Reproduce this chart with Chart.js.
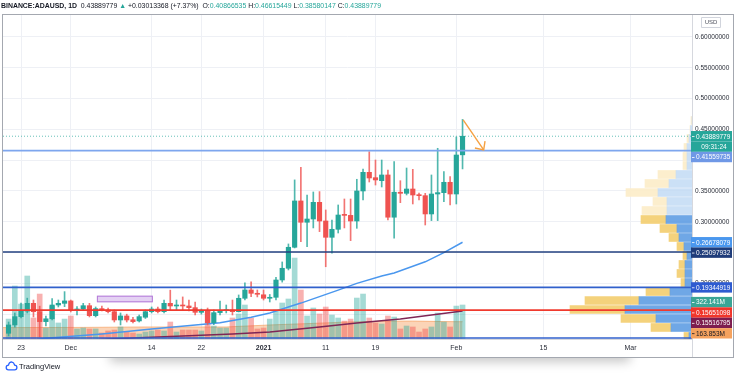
<!DOCTYPE html>
<html>
<head>
<meta charset="utf-8">
<title>ADAUSD 1D</title>
<script src="https://cdn.jsdelivr.net/npm/chart.js@4.4.1/dist/chart.umd.min.js"></script>
<style>
  html, body { margin: 0; padding: 0; background: #ffffff; }
  canvas { display: block; }
</style>
</head>
<body>
<canvas id="chart" width="736" height="374"></canvas>
<script>
// BINANCE:ADAUSD daily bars. day 0 = 23 Nov 2020, first bar is 21 Nov
const firstDay = -2;
const opens = [0.1190, 0.1325, 0.1460, 0.1550, 0.1676, 0.1541, 0.1379, 0.1425, 0.1649, 0.1676,
  0.1715, 0.1568, 0.1584, 0.1638, 0.1476, 0.1590, 0.1568, 0.1541, 0.1406, 0.1471,
  0.1410, 0.1390, 0.1450, 0.1541, 0.1584, 0.1541, 0.1676, 0.1633, 0.1649, 0.1633,
  0.1606, 0.1530, 0.1552, 0.1362, 0.1525, 0.1557, 0.1568, 0.1541, 0.1758, 0.1893,
  0.1839, 0.1815, 0.1758, 0.1774, 0.2055, 0.2245, 0.2586, 0.3338, 0.2992, 0.3045,
  0.3316, 0.3013, 0.2748, 0.2878, 0.3120, 0.3104, 0.3013, 0.3500, 0.3803, 0.3716,
  0.3667, 0.3760, 0.3074, 0.3480, 0.3462, 0.3532, 0.3435, 0.3424, 0.3127, 0.3451,
  0.3473, 0.3641, 0.3451, 0.40866535];
const highs = [0.1373, 0.1520, 0.1680, 0.1760, 0.1730, 0.1630, 0.1470, 0.1755, 0.1730, 0.1866,
  0.1730, 0.1622, 0.1676, 0.1676, 0.1617, 0.1630, 0.1600, 0.1568, 0.1520, 0.1500,
  0.1447, 0.1487, 0.1568, 0.1617, 0.1617, 0.1730, 0.1890, 0.1730, 0.1780, 0.1730,
  0.1698, 0.1584, 0.1600, 0.1568, 0.1714, 0.1649, 0.1730, 0.1812, 0.2010, 0.2027,
  0.1893, 0.1893, 0.1820, 0.2100, 0.2348, 0.2640, 0.3680, 0.3885, 0.3435, 0.3484,
  0.3490, 0.3192, 0.3029, 0.3273, 0.3370, 0.3370, 0.3690, 0.3857, 0.4138, 0.4003,
  0.4003, 0.3841, 0.3976, 0.3667, 0.3873, 0.3852, 0.3467, 0.3462, 0.3760, 0.4193,
  0.3814, 0.3732, 0.4377, 0.46615449];
const lows = [0.1146, 0.1290, 0.1440, 0.1520, 0.1455, 0.1130, 0.1310, 0.1406, 0.1617, 0.1622,
  0.1536, 0.1487, 0.1568, 0.1455, 0.1455, 0.1552, 0.1519, 0.1373, 0.1325, 0.1373,
  0.1357, 0.1373, 0.1430, 0.1520, 0.1520, 0.1520, 0.1568, 0.1570, 0.1568, 0.1552,
  0.1487, 0.1500, 0.1325, 0.1330, 0.1487, 0.1520, 0.1487, 0.1536, 0.1730, 0.1785,
  0.1780, 0.1730, 0.1698, 0.1730, 0.2020, 0.2218, 0.2575, 0.2677, 0.2596, 0.2900,
  0.2840, 0.2270, 0.2490, 0.2818, 0.2900, 0.2694, 0.2894, 0.3354, 0.3646, 0.3597,
  0.3565, 0.3029, 0.2732, 0.3310, 0.3435, 0.3289, 0.3354, 0.2948, 0.3019, 0.3019,
  0.3327, 0.3273, 0.3289, 0.38580147];
const closes = [0.1325, 0.1460, 0.1550, 0.1676, 0.1541, 0.1379, 0.1425, 0.1649, 0.1676, 0.1715,
  0.1568, 0.1584, 0.1638, 0.1476, 0.1590, 0.1568, 0.1541, 0.1406, 0.1471, 0.1406,
  0.1379, 0.1460, 0.1541, 0.1584, 0.1541, 0.1676, 0.1633, 0.1649, 0.1633, 0.1606,
  0.1530, 0.1552, 0.1362, 0.1525, 0.1557, 0.1568, 0.1541, 0.1758, 0.1893, 0.1839,
  0.1823, 0.1758, 0.1774, 0.2055, 0.2245, 0.2586, 0.3338, 0.2992, 0.3045, 0.3316,
  0.3013, 0.2748, 0.2878, 0.3110, 0.3104, 0.3013, 0.3500, 0.3803, 0.3711, 0.3679,
  0.3760, 0.3074, 0.3480, 0.3462, 0.3532, 0.3435, 0.3424, 0.3127, 0.3451, 0.3473,
  0.3641, 0.3451, 0.4084, 0.43889779];
// volume in millions
const volumes = [189, 502, 331, 597, 199, 426, 104, 312, 152, 189,
  218, 95, 104, 95, 95, 57, 76, 85, 114, 66,
  57, 47, 66, 76, 85, 76, 161, 66, 85, 85,
  85, 76, 265, 123, 104, 104, 199, 237, 322, 199,
  95, 104, 189, 275, 341, 379, 767, 464, 218, 294,
  237, 303, 227, 199, 170, 189, 388, 426, 199, 152,
  142, 218, 208, 95, 123, 114, 66, 95, 114, 246,
  161, 114, 312, 322.141];

// moving averages
const maFastDays = [0, 4, 13, 21, 32, 37, 40, 45, 51, 54, 58, 60, 65, 68, 71];
const maFastValues = [0.104, 0.111, 0.118, 0.126, 0.136, 0.145, 0.152, 0.168, 0.189, 0.200, 0.212, 0.217, 0.235, 0.250, 0.26678079];
const maSlowDays = [8, 14, 34, 40, 48, 54, 61, 71];
const maSlowValues = [0.106, 0.1097, 0.1178, 0.1211, 0.1292, 0.1357, 0.1422, 0.15516795];
const volMaDays = [-3, 10, 20, 33, 40, 47, 53, 58, 63, 68, 71];
const volMaValues = [108, 110, 114, 114, 133, 148, 162, 168, 170, 165, 163.853];

// horizontal levels
const levelPrices = [0.41559735, 0.25097932, 0.19344919, 0.15651098, 0.1114];

// visible range volume profile (rows by price, volume in millions)
const vpPrices = [0.4644, 0.4498, 0.4352, 0.4206, 0.4060, 0.3914, 0.3768, 0.3622, 0.3476, 0.3330,
  0.3183, 0.3037, 0.2891, 0.2745, 0.2599, 0.2453, 0.2307, 0.2161, 0.2014, 0.1868,
  0.1722, 0.1576, 0.1430, 0.1284, 0.1138];
const vpUp = [0, 30, 60, 100, 100, 100, 320, 460, 680, 500, 500, 520, 300, 260, 160, 100, 140, 140, 140, 440, 1060, 1340, 720, 420, 60];
const vpDown = [20, 10, 40, 60, 80, 80, 360, 480, 640, 280, 500, 500, 340, 200, 140, 80, 120, 160, 80, 480, 1080, 1100, 700, 400, 100];
const valueArea = [0.10, 0.31];

const tickDays = [0, 8, 21, 29, 39, 49, 57, 70, 84, 98];
const tickLabels = ['23', 'Dec', '14', '22', '2021', '11', '19', 'Feb', '15', 'Mar'];
const priceTicks = [0.15, 0.20, 0.25, 0.30, 0.35, 0.40, 0.45, 0.50, 0.55, 0.60];

// drawings
const zoneDays = [12.2, 21.2];
const zonePrices = [0.1693, 0.1800];
const arrowDays = [71.1, 74.4];
const arrowPrices = [0.4653, 0.4166];
const countdown = '09:31:24';

// axis ranges
const xMin = -2.9, xMax = 107.9;
const yMin = 0.1097, yMax = 0.6357;
const volMax = 3070;
const vpMax = 13780;

const UP = '#26a69a', DOWN = '#ef5350';
const FONT = '"Liberation Sans", Arial, sans-serif';
Chart.defaults.font.family = FONT;

const days = opens.map((_, i) => firstDay + i);
const isUp = opens.map((o, i) => closes[i] >= o);

const levelColors = ['#7ea6ee', '#22407f', '#3060cc', '#f03a2e', '#3060cc'];
const levelLabelColors = ['#6f98e6', '#1f3c7a', '#2e5bd0', '#f0362b'];

const datasets = [];

// candle bodies and wicks
datasets.push({
  type: 'bar', order: 3, grouped: false, barThickness: 4.5, minBarLength: 1,
  data: days.map((d, i) => ({x: d, y: [opens[i], closes[i]]})),
  backgroundColor: isUp.map(u => u ? UP : DOWN)
});
datasets.push({
  type: 'bar', order: 4, grouped: false, barThickness: 1,
  data: days.map((d, i) => ({x: d, y: [lows[i], highs[i]]})),
  backgroundColor: isUp.map(u => u ? 'rgba(38,166,154,0.8)' : 'rgba(239,83,80,0.8)')
});

// volume
datasets.push({
  type: 'bar', order: 9, grouped: false, barThickness: 5, yAxisID: 'yVol',
  data: days.map((d, i) => ({x: d, y: volumes[i]})),
  backgroundColor: isUp.map(u => u ? 'rgba(38,166,154,0.42)' : 'rgba(239,83,80,0.45)')
});
datasets.push({
  type: 'line', order: 10, yAxisID: 'yVol', fill: 'start', pointRadius: 0, borderWidth: 1,
  borderColor: 'rgba(245,150,80,0.6)', backgroundColor: 'rgba(246,160,95,0.45)',
  data: volMaDays.map((d, i) => ({x: d, y: volMaValues[i]}))
});

// volume profile
const inVA = vpPrices.map(p => p >= valueArea[0] && p <= valueArea[1]);
datasets.push({
  type: 'bar', indexAxis: 'y', order: 8, grouped: false, barThickness: 8,
  xAxisID: 'xProf', yAxisID: 'y',
  data: vpPrices.map((p, i) => ({x: vpUp[i], y: p})),
  backgroundColor: inVA.map(v => v ? 'rgba(86,152,226,0.85)' : 'rgba(190,216,244,0.8)')
});
datasets.push({
  type: 'bar', indexAxis: 'y', order: 8, grouped: false, barThickness: 8,
  xAxisID: 'xProf', yAxisID: 'y',
  data: vpPrices.map((p, i) => ({x: vpDown[i], y: p})),
  backgroundColor: inVA.map(v => v ? 'rgba(243,205,110,0.9)' : 'rgba(252,236,200,0.9)')
});

// moving averages
datasets.push({
  type: 'line', order: 6, pointRadius: 0, borderWidth: 1.5, borderColor: '#4a97ee',
  data: maFastDays.map((d, i) => ({x: d, y: maFastValues[i]}))
});
datasets.push({
  type: 'line', order: 6, pointRadius: 0, borderWidth: 1.5, borderColor: '#7e2656',
  data: maSlowDays.map((d, i) => ({x: d, y: maSlowValues[i]}))
});

// levels
levelPrices.forEach((p, i) => {
  datasets.push({
    type: 'line', order: 1, pointRadius: 0, borderWidth: 1.6, borderColor: levelColors[i],
    data: [{x: xMin, y: p}, {x: xMax, y: p}]
  });
});
// last price line
datasets.push({
  type: 'line', order: 2, pointRadius: 0, borderWidth: 1, borderDash: [1, 2],
  borderColor: 'rgba(38,166,154,0.7)',
  data: [{x: xMin, y: closes[closes.length - 1]}, {x: xMax, y: closes[closes.length - 1]}]
});

function drawHeader(ctx) {
  const n = opens.length - 1;
  const dark = '#131722';
  const parts = [
    ['BINANCE:ADAUSD, 1D  ', dark, '600'],
    [closes[n].toFixed(8) + ' ', dark, '400'],
    ['\u25B2', UP, '400'],
    [' +0.03013368 (+7.37%)  ', dark, '400'],
    ['O:', dark, '400'], [opens[n].toFixed(8), UP, '400'],
    [' H:', dark, '400'], [highs[n].toFixed(8), UP, '400'],
    [' L:', dark, '400'], [lows[n].toFixed(8), UP, '400'],
    [' C:', dark, '400'], [closes[n].toFixed(8), UP, '400']
  ];
  let w = 0;
  parts.forEach(p => { ctx.font = p[2] + ' 10px ' + FONT; w += ctx.measureText(p[0]).width; });
  const size = 10 * 380 / w;
  let x = 1;
  ctx.textBaseline = 'middle';
  ctx.textAlign = 'left';
  parts.forEach(p => {
    ctx.font = p[2] + ' ' + size.toFixed(2) + 'px ' + FONT;
    ctx.fillStyle = p[1];
    ctx.fillText(p[0], x, 6.5);
    x += ctx.measureText(p[0]).width;
  });
}

function drawAxisLabels(chart) {
  const {ctx, scales} = chart;
  const y = scales.y, yv = scales.yVol;
  const h = 10.4;
  const n = closes.length - 1;
  const lastY = y.getPixelForValue(closes[n]);
  const items = [
    {py: lastY, text: closes[n].toFixed(8), bg: UP, fg: '#fff'},
    {py: lastY + h, text: countdown, bg: UP, fg: '#fff', center: true},
    {py: y.getPixelForValue(maFastValues[maFastValues.length - 1]), text: maFastValues[maFastValues.length - 1].toFixed(8), bg: '#4a97ee', fg: '#fff'},
    {py: y.getPixelForValue(maSlowValues[maSlowValues.length - 1]), text: maSlowValues[maSlowValues.length - 1].toFixed(8), bg: '#7d1d4f', fg: '#fff'},
    {py: yv.getPixelForValue(volumes[n]), text: volumes[n].toFixed(3) + 'M', bg: '#3aa596', fg: '#fff'},
    {py: yv.getPixelForValue(volMaValues[volMaValues.length - 1]), text: volMaValues[volMaValues.length - 1].toFixed(3) + 'M', bg: '#f5a25e', fg: '#131722'}
  ];
  levelLabelColors.forEach((c, i) => {
    items.push({py: y.getPixelForValue(levelPrices[i]), text: levelPrices[i].toFixed(8), bg: c, fg: '#fff'});
  });
  items.sort((a, b) => a.py - b.py);
  for (let i = 1; i < items.length; i++) {
    if (items[i].py < items[i - 1].py + h) items[i].py = items[i - 1].py + h;
  }
  let limit = chart.chartArea.bottom - 0.5 - h / 2;
  for (let i = items.length - 1; i >= 0; i--) {
    if (items[i].py > limit) items[i].py = limit;
    limit = items[i].py - h;
  }
  const x0 = chart.chartArea.right - 1;
  ctx.save();
  ctx.font = '6.5px ' + FONT;
  ctx.textBaseline = 'middle';
  items.forEach(it => {
    ctx.fillStyle = it.bg;
    ctx.fillRect(x0, it.py - h / 2, 41, h);
    ctx.fillStyle = it.fg;
    if (it.center) {
      ctx.textAlign = 'center';
      ctx.fillText(it.text, x0 + 23, it.py + 0.5);
    } else {
      ctx.textAlign = 'left';
      ctx.fillRect(x0 + 1, it.py, 2.5, 0.8);
      ctx.fillText(it.text, x0 + 5, it.py + 0.5);
    }
  });
  ctx.restore();
}

function drawLogo(ctx) {
  ctx.save();
  ctx.strokeStyle = '#2962ff';
  ctx.lineWidth = 1.3;
  ctx.beginPath();
  ctx.arc(8.5, 367.5, 2.3, Math.PI * 0.5, Math.PI * 1.5);
  ctx.arc(11.5, 364.8, 2.8, Math.PI * 1.05, Math.PI * 1.95);
  ctx.arc(14.6, 367.5, 2.3, Math.PI * 1.5, Math.PI * 0.5);
  ctx.closePath();
  ctx.stroke();
  ctx.font = '7.5px ' + FONT;
  ctx.fillStyle = '#131722';
  ctx.textBaseline = 'middle';
  ctx.textAlign = 'left';
  ctx.fillText('TradingView', 19, 366.5);
  ctx.restore();
}

const overlay = {
  id: 'overlay',
  beforeDraw(chart) {
    // soft shadow under the chart frame
    const ctx = chart.ctx;
    ctx.save();
    ctx.shadowColor = 'rgba(0,0,0,0.22)';
    ctx.shadowBlur = 10;
    ctx.shadowOffsetY = 5;
    ctx.fillStyle = '#ffffff';
    ctx.fillRect(110, 320, 520, 37);
    ctx.restore();
    ctx.fillStyle = '#ffffff';
    ctx.fillRect(3, 15, 731, 342);
  },
  afterDatasetsDraw(chart) {
    const {ctx, scales: {x, y}} = chart;
    ctx.save();
    // purple zone
    const zx0 = x.getPixelForValue(zoneDays[0]), zx1 = x.getPixelForValue(zoneDays[1]);
    const zy0 = y.getPixelForValue(zonePrices[1]), zy1 = y.getPixelForValue(zonePrices[0]);
    ctx.fillStyle = 'rgba(210,178,235,0.6)';
    ctx.strokeStyle = '#b47ad8';
    ctx.lineWidth = 1;
    ctx.fillRect(zx0, zy0, zx1 - zx0, zy1 - zy0);
    ctx.strokeRect(zx0 + 0.5, zy0 + 0.5, zx1 - zx0 - 1, zy1 - zy0 - 1);
    // orange arrow
    const ax = x.getPixelForValue(arrowDays[0]), ay = y.getPixelForValue(arrowPrices[0]);
    const bx = x.getPixelForValue(arrowDays[1]), by = y.getPixelForValue(arrowPrices[1]);
    ctx.strokeStyle = '#f5a142';
    ctx.lineWidth = 1.4;
    ctx.beginPath();
    ctx.moveTo(ax, ay);
    ctx.lineTo(bx, by);
    ctx.stroke();
    const ang = Math.atan2(by - ay, bx - ax);
    const L = 9;
    ctx.beginPath();
    ctx.moveTo(bx - L * Math.cos(ang - 0.75), by - L * Math.sin(ang - 0.75));
    ctx.lineTo(bx, by);
    ctx.lineTo(bx - L * Math.cos(ang + 0.75), by - L * Math.sin(ang + 0.75));
    ctx.stroke();
    ctx.restore();
  },
  afterDraw(chart) {
    const {ctx, chartArea} = chart;
    ctx.save();
    drawAxisLabels(chart);
    // USD badge
    ctx.strokeStyle = '#d1d4dc';
    ctx.lineWidth = 1;
    ctx.fillStyle = '#ffffff';
    ctx.beginPath();
    ctx.rect(701.5, 17.5, 19, 10);
    ctx.fill();
    ctx.stroke();
    ctx.fillStyle = '#50535e';
    ctx.font = '6px ' + FONT;
    ctx.textAlign = 'center';
    ctx.textBaseline = 'middle';
    ctx.fillText('USD', 711, 22.8);
    // separators and frame
    ctx.strokeStyle = '#d6d8de';
    ctx.beginPath();
    ctx.moveTo(chartArea.right + 0.5, chartArea.bottom);
    ctx.lineTo(chartArea.right + 0.5, 357);
    ctx.stroke();
    ctx.strokeStyle = '#a4a8b0';
    ctx.strokeRect(2.5, 14.5, 731, 343);
    ctx.restore();
    drawHeader(ctx);
    drawLogo(ctx);
  }
};

new Chart(document.getElementById('chart'), {
  data: {datasets: datasets},
  options: {
    responsive: false,
    animation: false,
    devicePixelRatio: 1,
    layout: {padding: {left: 3, top: 15, right: 2, bottom: 17}},
    plugins: {legend: {display: false}, tooltip: {enabled: false}},
    scales: {
      x: {
        type: 'linear', min: xMin, max: xMax, offset: false,
        afterBuildTicks: s => { s.ticks = tickDays.map(v => ({value: v})); },
        afterFit: s => { s.height = 18; },
        grid: {color: '#eef0f5', drawTicks: false, offset: false},
        border: {color: '#d6d8de'},
        ticks: {
          autoSkip: false, maxRotation: 0, padding: 5, color: '#2a2e39',
          font: c => ({size: 7, weight: tickLabels[c.index] === '2021' ? 'bold' : 'normal'}),
          callback: (v, i) => tickLabels[i]
        }
      },
      y: {
        type: 'linear', position: 'right', min: yMin, max: yMax, beginAtZero: false, offset: false,
        afterBuildTicks: s => { s.ticks = priceTicks.map(v => ({value: v})); },
        afterFit: s => { s.width = 42; },
        grid: {color: '#eef0f5', drawTicks: false, offset: false},
        border: {color: '#d6d8de'},
        ticks: {padding: 3, color: '#2a2e39', font: {size: 6.5}, callback: v => v.toFixed(8)}
      },
      yVol: {type: 'linear', display: false, min: 0, max: volMax, offset: false},
      xProf: {type: 'linear', axis: 'x', display: false, reverse: true, min: 0, max: vpMax, stacked: true, offset: false}
    }
  },
  plugins: [overlay]
});
</script>
</body>
</html>
